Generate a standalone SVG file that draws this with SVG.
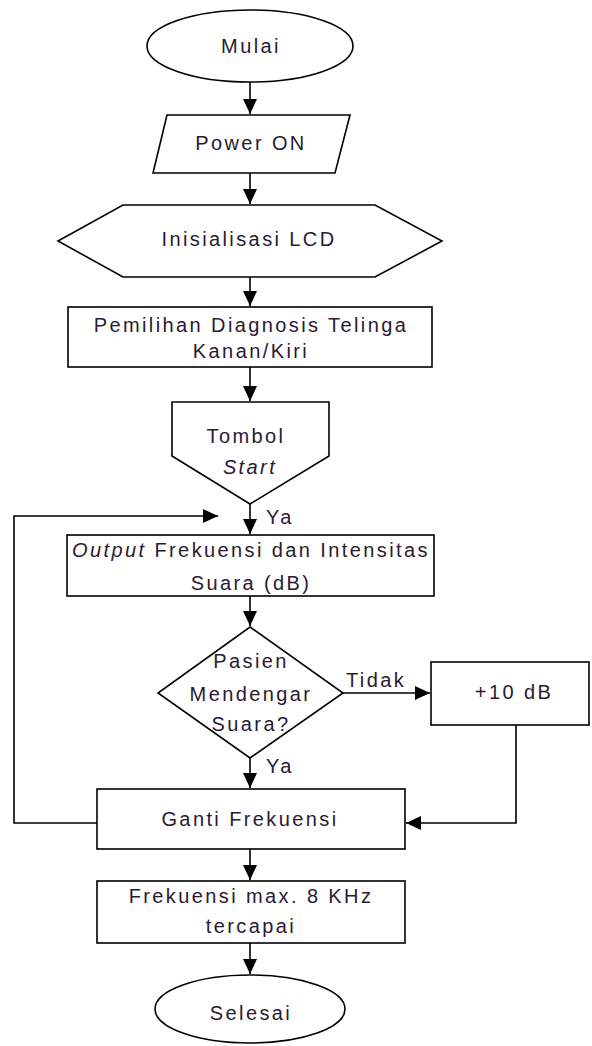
<svg xmlns="http://www.w3.org/2000/svg" width="592" height="1046" viewBox="0 0 592 1046">
<style>
.s{fill:#fff;stroke:#000;stroke-width:1.6}
.c{fill:none;stroke:#000;stroke-width:1.6}
text{font-family:"Liberation Sans",Arial,sans-serif;font-size:20px;letter-spacing:2.4px;fill:#2a1a33;text-anchor:middle}
.i{font-style:italic}
.l{text-anchor:start}
</style>
<defs>
<marker id="a" markerUnits="userSpaceOnUse" markerWidth="16" markerHeight="14" refX="15" refY="7" orient="auto">
<path d="M0,0 L15,7 L0,14 z" fill="#000"/>
</marker>
</defs>
<g id="connectors">
<path class="c" d="M250,82 V114" marker-end="url(#a)"/>
<path class="c" d="M250,173 V204" marker-end="url(#a)"/>
<path class="c" d="M250,277 V306" marker-end="url(#a)"/>
<path class="c" d="M250,367 V401" marker-end="url(#a)"/>
<path class="c" d="M250,504 V534" marker-end="url(#a)"/>
<path class="c" d="M250,596 V626" marker-end="url(#a)"/>
<path class="c" d="M343,693 H430" marker-end="url(#a)"/>
<path class="c" d="M250,758 V788" marker-end="url(#a)"/>
<path class="c" d="M516,725 V823 H406" marker-end="url(#a)"/>
<path class="c" d="M97,823 H14 V516 H218" marker-end="url(#a)"/>
<path class="c" d="M250,849 V880" marker-end="url(#a)"/>
<path class="c" d="M250,943 V974" marker-end="url(#a)"/>
<text x="266" y="524" class="l">Ya</text>
<text x="346" y="687" class="l">Tidak</text>
<text x="266" y="773" class="l">Ya</text>
</g>
<g id="mulai">
<ellipse class="s" cx="250" cy="46" rx="103" ry="36"/>
<text x="251" y="53">Mulai</text>
</g>
<g id="power">
<polygon class="s" points="167,115 350,115 335,173 153,173"/>
<text x="251" y="150">Power ON</text>
</g>
<g id="lcd">
<polygon class="s" points="58,241 123,205 375,205 442,241 375,277 123,277"/>
<text x="249" y="246">Inisialisasi LCD</text>
</g>
<g id="pemilihan">
<rect class="s" x="68" y="307" width="364" height="60"/>
<text x="251" y="332">Pemilihan Diagnosis Telinga</text>
<text x="251" y="358">Kanan/Kiri</text>
</g>
<g id="tombol">
<polygon class="s" points="172,402 329,402 329,456 250,504 172,456"/>
<text x="246" y="443">Tombol</text>
<text x="250" y="474" class="i">Start</text>
</g>
<g id="output">
<rect class="s" x="67" y="535" width="367" height="61"/>
<text x="251" y="557"><tspan class="i">Output</tspan> Frekuensi dan Intensitas</text>
<text x="251" y="590">Suara (dB)</text>
</g>
<g id="pasien">
<polygon class="s" points="250,627 343,693 250,758 158,693"/>
<text x="251" y="668">Pasien</text>
<text x="251" y="701">Mendengar</text>
<text x="251" y="731">Suara?</text>
</g>
<g id="plus10">
<rect class="s" x="431" y="662" width="158" height="63"/>
<text x="514" y="699">+10 dB</text>
</g>
<g id="ganti">
<rect class="s" x="97" y="789" width="308" height="60"/>
<text x="250" y="826">Ganti Frekuensi</text>
</g>
<g id="maks">
<rect class="s" x="97" y="881" width="308" height="62"/>
<text x="251" y="903">Frekuensi max. 8 KHz</text>
<text x="251" y="933">tercapai</text>
</g>
<g id="selesai">
<ellipse class="s" cx="250" cy="1009" rx="95" ry="34"/>
<text x="251" y="1020">Selesai</text>
</g>
</svg>
